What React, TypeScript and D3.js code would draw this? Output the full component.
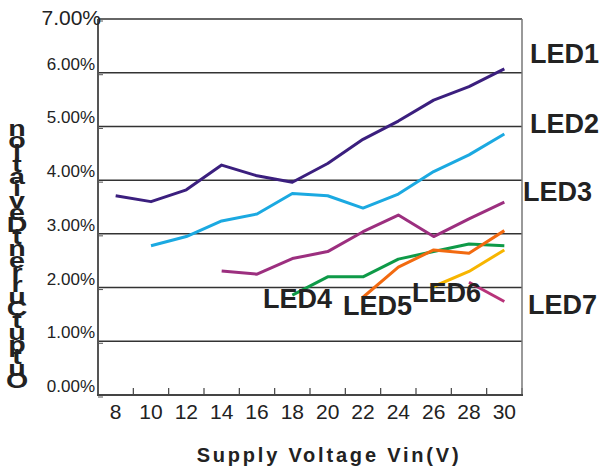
import React from "react";
import * as d3 from "d3";

const voltages = [8, 10, 12, 14, 16, 18, 20, 22, 24, 26, 28, 30];
const yTicks = [0, 1, 2, 3, 4, 5, 6, 7];
const yTickLabels = ["0.00%", "1.00%", "2.00%", "3.00%", "4.00%", "5.00%", "6.00%", "7.00%"];
const seriesNames = ["LED1", "LED2", "LED3", "LED4", "LED5", "LED6", "LED7"];
const led1 = [3.71, 3.6, 3.82, 4.28, 4.08, 3.96, 4.31, 4.76, 5.1, 5.49, 5.74, 6.07];
const led2 = [null, 2.78, 2.95, 3.24, 3.37, 3.75, 3.71, 3.48, 3.74, 4.16, 4.47, 4.86];
const led3 = [null, null, null, 2.31, 2.25, 2.54, 2.67, 3.04, 3.35, 2.95, 3.28, 3.59];
const led4 = [null, null, null, null, null, 1.86, 2.2, 2.2, 2.53, 2.67, 2.81, 2.78];
const led5 = [null, null, null, null, null, null, null, 1.82, 2.38, 2.7, 2.64, 3.06];
const led6 = [null, null, null, null, null, null, null, null, null, 2.02, 2.3, 2.7];
const led7 = [null, null, null, null, null, null, null, null, null, null, 2.1, 1.74];
const xTitle = "Supply Voltage Vin(V)";
const yTitle = "OutputCurrentDeviation";

const seriesValues = [led1, led2, led3, led4, led5, led6, led7];
const colors = ["#3b1f7e", "#1ba9e1", "#9c2f7f", "#0e9a48", "#f26a10", "#f7b500", "#b8337a"];
const labelPos: [number, number][] = [
  [530, 63],
  [530, 133],
  [523, 201],
  [263, 308],
  [343, 315],
  [412, 302],
  [528, 314],
];

export default function App() {
  const W = 603, H = 476;
  const left = 98, right = 522, top = 19, bottom = 395;
  const x = d3.scaleBand<number>().domain(voltages).range([left, right]).padding(0);
  const y = d3.scaleLinear().domain([0, 7]).range([bottom, top]);
  const cx = (v: number) => (x(v) as number) + x.bandwidth() / 2;
  const line = d3
    .line<number | null>()
    .defined((d) => d !== null)
    .x((_, i) => cx(voltages[i]))
    .y((d) => y(d as number));
  const font = "'Liberation Sans', Arial, sans-serif";
  const txt = "#222";
  const edges = voltages.map((v) => x(v) as number).concat([right]);

  return (
    <svg width={W} height={H} style={{ position: "absolute", left: 0, top: 0, background: "#fff" }} fontFamily={font}>
      {yTicks.map((t) => (
        <line key={"g" + t} x1={left} x2={right} y1={y(t)} y2={y(t)} stroke={t === 7 ? "#666" : "#333"} strokeWidth={t === 7 ? 2 : 1.5} />
      ))}
      {yTicks.map((t) => (
        <line key={"lt" + t} x1={left} x2={left + 5} y1={y(t) + 2} y2={y(t) + 2} stroke="#555" strokeWidth={1} />
      ))}
      {edges.map((e, i) => (
        <line key={"xt" + i} x1={e} x2={e} y1={bottom} y2={bottom - 7} stroke="#444" strokeWidth={1.2} />
      ))}
      <line x1={left} x2={left} y1={top} y2={bottom + 1} stroke="#555" strokeWidth={2} />
      <line x1={right} x2={right} y1={top} y2={bottom + 1} stroke="#777" strokeWidth={1.5} />
      <line x1={left - 1} x2={right + 1} y1={bottom} y2={bottom} stroke="#444" strokeWidth={2} />

      {seriesValues.map((vals, i) => (
        <path key={"s" + i} d={line(vals) || ""} fill="none" stroke={colors[i]} strokeWidth={3} strokeLinejoin="round" />
      ))}

      {seriesNames.map((n, i) => (
        <text key={"l" + i} x={labelPos[i][0]} y={labelPos[i][1]} fontSize={27} fontWeight="bold" fill={txt}>
          {n}
        </text>
      ))}

      {yTicks.map((t, i) =>
        t === 7 ? (
          <text key={"yl" + t} x={101} y={y(t) + 6} fontSize={21} textAnchor="end" fill={txt}>
            {yTickLabels[i]}
          </text>
        ) : (
          <text key={"yl" + t} x={95} y={y(t) - 3} fontSize={17} textAnchor="end" fill={txt}>
            {yTickLabels[i]}
          </text>
        )
      )}

      {voltages.map((v) => (
        <text key={"xl" + v} x={cx(v)} y={419} fontSize={21} textAnchor="middle" fill={txt}>
          {v}
        </text>
      ))}

      <text x={329} y={462} fontSize={20} fontWeight="bold" textAnchor="middle" letterSpacing={2.8} fill={txt}>
        {xTitle}
      </text>

      <g transform="translate(17,0) scale(1.3,1)">
        {yTitle.split("").map((c, i) => (
          <text key={"yt" + i} x={0} y={388 - i * 12} fontSize={22} fontWeight="bold" textAnchor="middle" fill={txt}>
            {c}
          </text>
        ))}
      </g>
    </svg>
  );
}
